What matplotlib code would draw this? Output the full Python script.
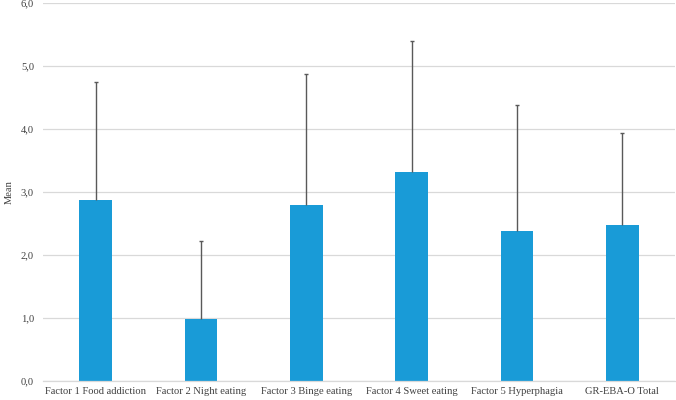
import matplotlib
matplotlib.use("Agg")
import matplotlib.pyplot as plt
import numpy as np

categories = ["Factor 1 Food addiction", "Factor 2 Night eating", "Factor 3 Binge eating",
              "Factor 4 Sweet eating", "Factor 5 Hyperphagia", "GR-EBA-O Total"]
means = [2.87, 0.98, 2.80, 3.32, 2.38, 2.47]
sds = [1.88, 1.24, 2.08, 2.07, 2.00, 1.47]
yticks = [0, 1, 2, 3, 4, 5, 6]
ytick_labels = ["0,0", "1,0", "2,0", "3,0", "4,0", "5,0", "6,0"]

plt.rcParams['font.family'] = ['Liberation Serif', 'DejaVu Serif']

fig = plt.figure(figsize=(6.76, 4.0), dpi=100)
ax = fig.add_axes([0.0636, 0.0475, 0.935, 0.945])

x = np.arange(len(categories))
ax.bar(x, means, width=0.31, color="#199BD7", zorder=2)
eb = ax.errorbar(x, means, yerr=[np.zeros(len(sds)), sds], fmt="none",
                 ecolor="#595959", elinewidth=1.0, capsize=1.6, capthick=1.0, zorder=3)
caps = eb[1]
if len(caps) == 2:
    caps[0].set_visible(False)

ax.set_xlim(-0.5, len(categories) - 0.5)
ax.set_ylim(0, 6)
ax.set_yticks(yticks)
ax.set_yticklabels(ytick_labels)
ax.set_xticks(x)
ax.set_xticklabels(categories)
ax.tick_params(axis="both", length=0, labelsize=7.6, colors="#404040")
ax.tick_params(axis="y", pad=6.5)
ax.tick_params(axis="x", pad=4)
ax.yaxis.grid(True, color="#d9d9d9", linewidth=0.9, zorder=0)
ax.set_axisbelow(True)
for s in ["top", "right", "left"]:
    ax.spines[s].set_visible(False)
ax.spines["bottom"].set_color("#d9d9d9")
ax.spines["bottom"].set_linewidth(0.9)
ax.set_ylabel("Mean", fontsize=7.6, color="#404040")
ax.yaxis.set_label_coords(-0.046, 0.5)

fig.savefig("out.png", dpi=100)
